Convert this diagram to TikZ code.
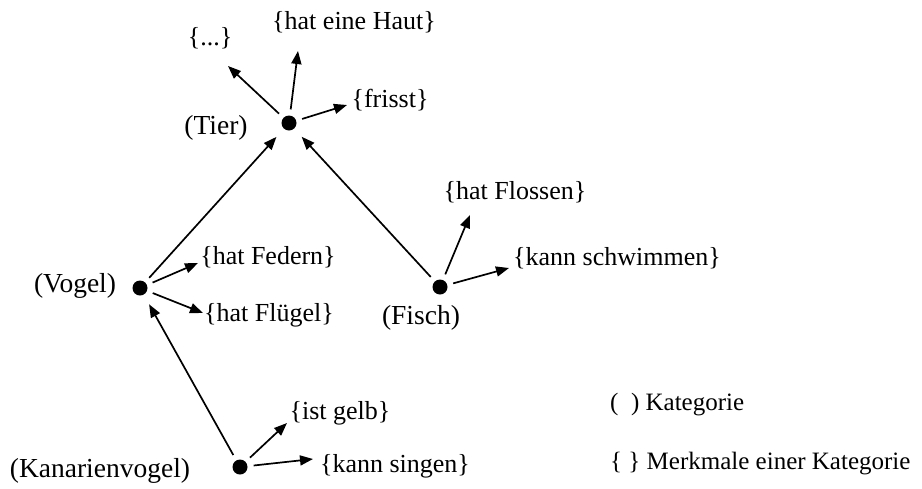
\documentclass[tikz,border=0pt]{standalone}
\usepackage{fontspec}
\setmainfont{Liberation Serif}
\usetikzlibrary{calc}
\usetikzlibrary{positioning}
\usetikzlibrary{arrows.meta}
\tikzset{x=1pt, y=-1pt, % one unit is one pixel of the sketch, y runs down
  every node/.style={           align=center,
           inner sep=0pt,
           font=\fontsize{26}{30}\selectfont
},
         kategorie/.style={ % Sets the properties for each category dot
           circle,
           fill=black,
           minimum size=15pt},
         katname/.style={   % name of a category
           font=\fontsize{27.5}{32}\selectfont},
         every edge/.style={  % Sets the properties for each arrow
           draw,
           -{Triangle[length=13pt,width=10pt]},
           line width=1.7pt,
           shorten <=6pt},
         isa/.style={         % arrow from one category up to the next
           shorten >=11pt}}

\begin{document}
\begin{tikzpicture}
  \useasboundingbox (0,0) rectangle (922,488);

  % categories
  \node [kategorie] (tier) at (289,123) {};
  \node [kategorie] (vogel) at (140,288) {};
  \node [kategorie] (fisch) at (440,287) {};
  \node [kategorie] (kanarie) at (240,467) {};

  \node [katname] (tierL) at (216,128) {(Tier)};
  \node [katname] (vogelL) at (75,286) {(Vogel)};
  \node [katname] (fischL) at (421,318) {(Fisch)};
  \node [katname] (kanarieL) at (100,471) {(Kanarienvogel)};

  % features
  \node (etc) at (210,38) {\{...\}};
  \node (haut) at (354,22) {\{hat eine Haut\}};
  \node (frisst) at (390,100) {\{frisst\}};
  \node (federn) at (268,257) {\{hat Federn\}};
  \node (fluegel) at (269,315) {\{hat Flügel\}};
  \node (flossen) at (515,192) {\{hat Flossen\}};
  \node (schwimmen) at (617,258) {\{kann schwimmen\}};
  \node (gelb) at (340,413) {\{ist gelb\}};
  \node (singen) at (395,466) {\{kann singen\}};

  \coordinate (tEtc) at (228,66);
  \coordinate (tHaut) at (298,51);
  \coordinate (tFrisst) at (347,105);
  \coordinate (tFedern) at (198,263);
  \coordinate (tFluegel) at (203,313);
  \coordinate (tFlossen) at (470,215);
  \coordinate (tSchwimmen) at (509,268);
  \coordinate (tGelb) at (287,423);
  \coordinate (tSingen) at (313,459);

  \draw (tier) edge (tEtc)
               edge (tHaut)
               edge (tFrisst);
  \draw (vogel) edge (tFedern)
                edge (tFluegel)
                edge [isa] (tier);
  \draw (fisch) edge (tFlossen)
                edge (tSchwimmen)
                edge [isa] (tier);
  \draw (kanarie) edge (tGelb)
                  edge (tSingen)
                  edge [isa] (vogel);

  % legend
  \node [anchor=west, font=\fontsize{25}{30}\selectfont] (legK) at (610,405) {(\ \ ) Kategorie};
  \node [anchor=west, font=\fontsize{25}{30}\selectfont] (legM) at (610,464) {\{ \} Merkmale einer Kategorie};
\end{tikzpicture}
\end{document}
